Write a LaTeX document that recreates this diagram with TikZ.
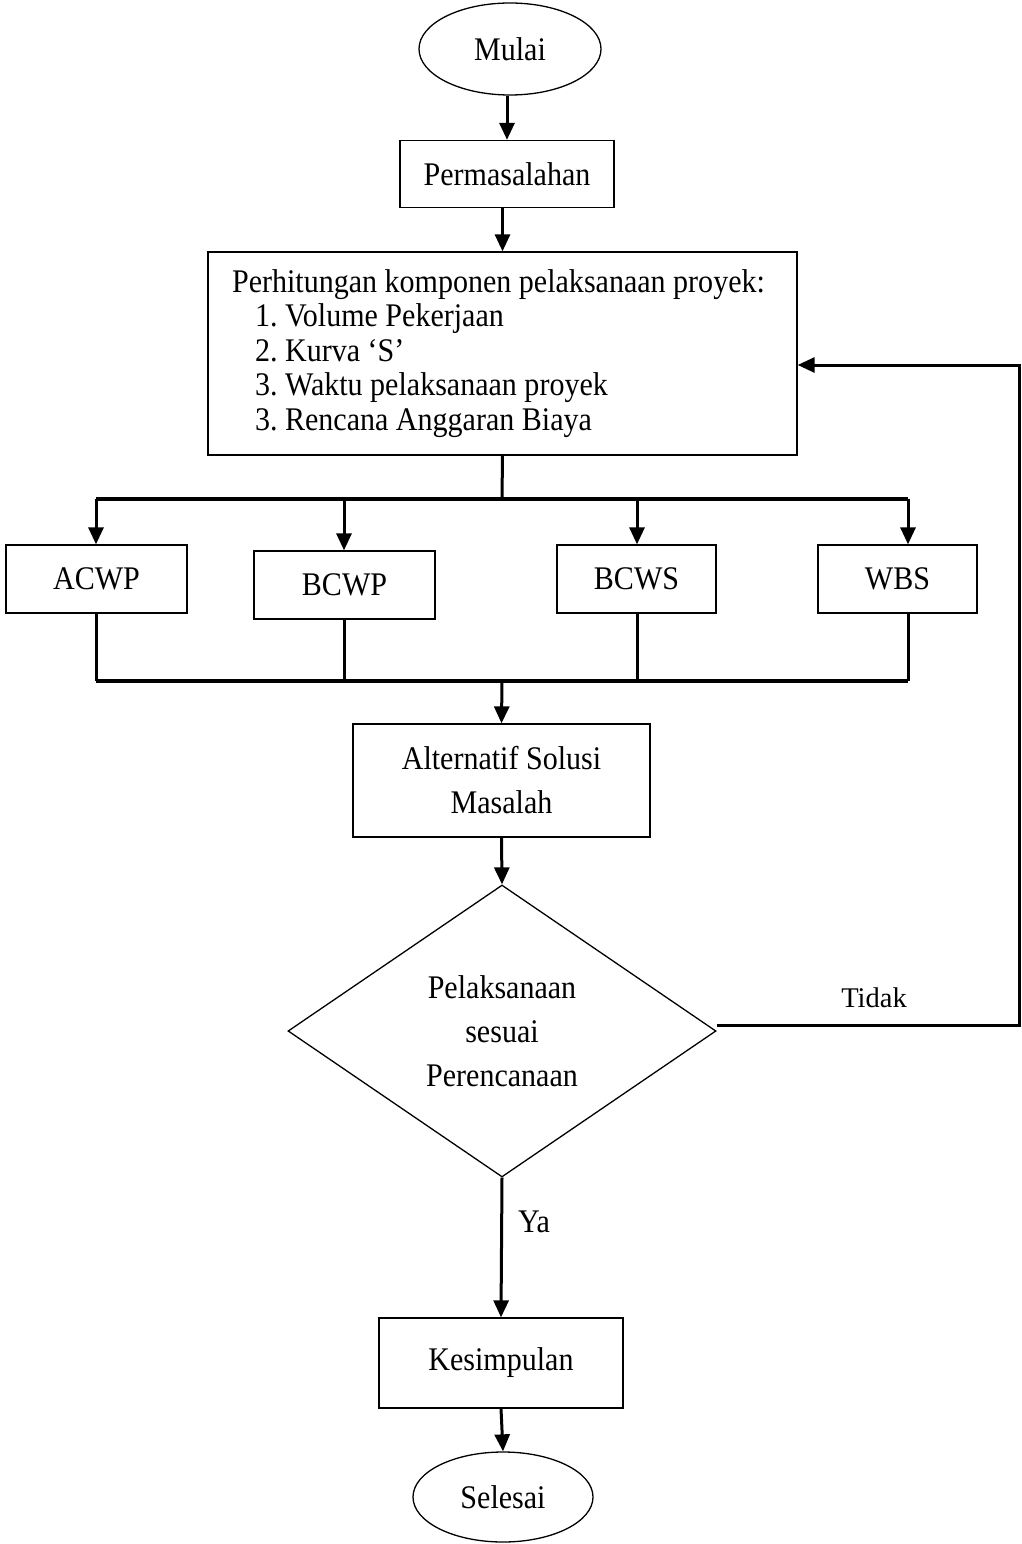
\documentclass[tikz,border=0pt]{standalone}
\usepackage{fontspec}
\setmainfont{Liberation Serif}[FakeStretch=0.91]
\newfontfamily\tidakfont{Liberation Serif}
\usetikzlibrary{shapes.geometric,arrows.meta}
\begin{document}
\frenchspacing
\begin{tikzpicture}[x=1pt,y=-1pt,
  every node/.style={font=\fontsize{33}{34.5}\selectfont},
  boxn/.style={draw,line width=1.3pt,inner sep=0pt},
  ovaln/.style={draw,ellipse,line width=1.3pt,inner sep=0pt},
  arr/.style={line width=3pt,-{Triangle[length=17pt,width=15pt]}},
  lnk/.style={line width=3pt},
  bar/.style={line width=4pt}]
\useasboundingbox (0,0) rectangle (1021,1544);
% nodes
\node[ovaln,minimum width=182pt,minimum height=92pt] (mulai) at (510,49) {Mulai};
\node[boxn,minimum width=214pt,minimum height=67pt] (perm) at (507,174) {Permasalahan};
\node[boxn,minimum width=589pt,minimum height=203pt,align=left] (calc) at (502.5,353.5)
  {Perhitungan komponen pelaksanaan proyek:\hspace*{8pt}\\
   \hspace*{23pt}1. Volume Pekerjaan\\
   \hspace*{23pt}2. Kurva ‘S’\\
   \hspace*{23pt}3. Waktu pelaksanaan proyek\\
   \hspace*{23pt}3. Rencana Anggaran Biaya};
\node[boxn,minimum width=181pt,minimum height=68pt] (acwp) at (96.5,579) {ACWP};
\node[boxn,minimum width=181pt,minimum height=68pt] (bcwp) at (344.5,585) {BCWP};
\node[boxn,minimum width=159pt,minimum height=68pt] (bcws) at (636.5,579) {BCWS};
\node[boxn,minimum width=159pt,minimum height=68pt] (wbs) at (897.5,579) {WBS};
\node[boxn,minimum width=297pt,minimum height=113pt,align=center,font=\fontsize{33}{44}\selectfont] (alt) at (501.5,780.5) {Alternatif Solusi\\Masalah};
\node[draw,diamond,line width=1.3pt,aspect=1.466,minimum width=428pt,minimum height=292pt,inner sep=0pt,align=center,font=\fontsize{33}{44}\selectfont] (dia) at (502,1031) {Pelaksanaan\\sesuai\\Perencanaan};
\node[boxn,minimum width=244pt,minimum height=90pt] (kes) at (501,1363) {Kesimpulan};
\node[ovaln,minimum width=180pt,minimum height=90pt] (sel) at (503,1497) {Selesai};
\node[font=\tidakfont\fontsize{28.5}{30}\selectfont] (tidak) at (874,998) {Tidak};
\node (ya) at (534,1222) {Ya};
% coordinates
\coordinate (tA) at (96,499);
\coordinate (tB) at (344,499);
\coordinate (tC) at (637,499);
\coordinate (tD) at (908,499);
\coordinate (bA) at (96,681);
\coordinate (bB) at (344,681);
\coordinate (bC) at (637,681);
\coordinate (bD) at (908,681);
\coordinate (tM) at (502,499);
\coordinate (bM) at (502,681);
\coordinate (fb) at (1019,365);
% connectors
\draw[arr] (mulai.south -| perm.north) -- (perm.north);
\draw[arr] (perm.south -| calc.north) -- (calc.north);
\draw[lnk] (calc.south) -- (tM);
\draw[bar] (tA) -- (tD);
\draw[arr] (tA) -- (tA |- acwp.north);
\draw[arr] (tB) -- (tB |- bcwp.north);
\draw[arr] (tC) -- (tC |- bcws.north);
\draw[arr] (tD) -- (tD |- wbs.north);
\draw[lnk] (bA |- acwp.south) -- (bA);
\draw[lnk] (bB |- bcwp.south) -- (bB);
\draw[lnk] (bC |- bcws.south) -- (bC);
\draw[lnk] (bD |- wbs.south) -- (bD);
\draw[bar] (bA) -- (bD);
\draw[arr] (bM) -- (alt.north);
\draw[arr] (alt.south) -- (dia.north);
\draw[arr] (dia.south) -- (kes.north);
\draw[arr] (kes.south) -- (sel.north);
\draw[arr] ([yshift=6pt]dia.east) -| (fb) -- (fb -| calc.east);
\end{tikzpicture}
\end{document}
